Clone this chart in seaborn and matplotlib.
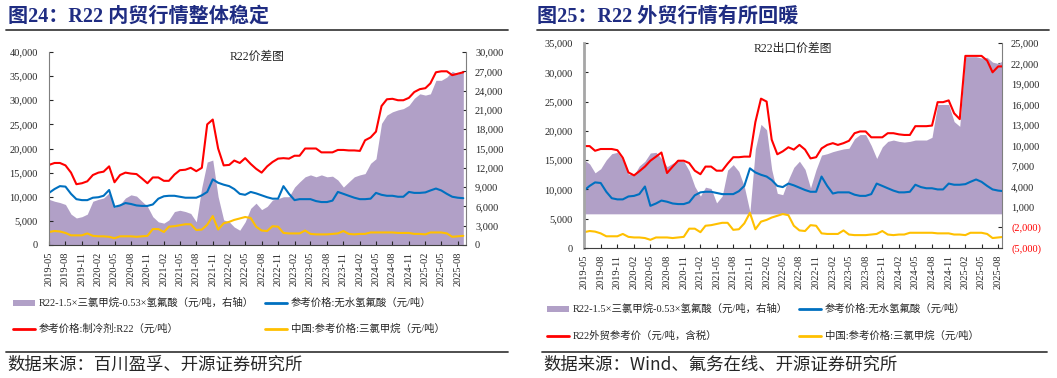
import numpy as np
import pandas as pd
import matplotlib
matplotlib.use("Agg")
import matplotlib.pyplot as plt
from matplotlib.lines import Line2D
from matplotlib.patches import Rectangle
import seaborn as sns

# monthly points, 2019-05 .. 2025-09
months = pd.date_range("2019-05-01", "2025-09-01", freq="MS")

# left chart: domestic R22 price (yuan/t)
r22_domestic = [16600, 17000, 17000, 16500, 15000, 12600, 12800, 13200, 14500, 15000,
                15200, 16300, 13000, 14500, 15000, 14800, 14700, 13800, 12800, 14000,
                14000, 13300, 13300, 14600, 15500, 15600, 16000, 15300, 16000, 25000,
                26000, 20000, 16500, 16600, 17500, 17000, 18000, 16800, 15800, 15000,
                16300, 17200, 17900, 18000, 17900, 18500, 18500, 20000, 20000, 20000,
                19200, 19200, 19200, 19700, 19700, 19600, 19600, 19500, 21700, 22300,
                23500, 28800, 30200, 30300, 30000, 30000, 30500, 31700, 32300, 32500,
                33500, 35800, 36000, 36000, 35200, 35500, 35800]

# anhydrous HF reference price, left chart
hf_left = [10800, 11600, 12200, 12100, 10600, 9500, 9300, 9300, 9800, 9900,
           10200, 11400, 7900, 8200, 8700, 8500, 8200, 8100, 8100, 8400,
           9600, 10100, 10200, 10200, 10000, 9800, 9800, 9800, 10300, 11000,
           13600, 12900, 12500, 12200, 11600, 10600, 10400, 11000, 10700, 10300,
           9900, 9600, 9600, 12200, 10600, 9300, 9500, 9500, 9500, 9100,
           8900, 8900, 9200, 11000, 10600, 10200, 9800, 9500, 9500, 9600,
           10800, 10400, 10200, 10200, 10000, 10000, 11000, 10800, 10800, 10900,
           11300, 11700, 11300, 10600, 10000, 9800, 9700]

# anhydrous HF reference price, right chart
hf_right = [9800, 10600, 11200, 11100, 9600, 8500, 8300, 8300, 8800, 8900,
            9200, 10500, 7200, 7600, 8100, 7900, 7600, 7500, 7500, 7800,
            9000, 9500, 9600, 9600, 9400, 9200, 9200, 9200, 9700, 10600,
            13600, 12900, 12500, 12200, 11600, 10600, 10400, 11000, 10700, 10300,
            9900, 9600, 9600, 12200, 10600, 9300, 9500, 9500, 9500, 9100,
            8900, 8900, 9200, 11000, 10600, 10200, 9800, 9500, 9500, 9600,
            10800, 10400, 10200, 10200, 10000, 10000, 11000, 10800, 10800, 10900,
            11300, 11700, 11300, 10600, 10000, 9800, 9700]

# chloroform reference price
chcl3_price = [2700, 2900, 2800, 2500, 2000, 2000, 2000, 2400, 1900, 1800,
               1800, 1700, 1400, 1800, 1800, 1800, 1700, 1800, 1900, 3300,
               3300, 2700, 3800, 3900, 4100, 4300, 4300, 3100, 3200, 4200,
               6000, 3200, 4500, 4800, 5200, 5500, 5800, 5600, 3800, 3000,
               2900, 3900, 3800, 2500, 2400, 2400, 2400, 3000, 2300, 2200,
               2200, 2200, 2300, 2400, 2900, 2300, 2200, 2300, 2300, 2600,
               2600, 2600, 2600, 2600, 2500, 2500, 2500, 2300, 2300, 2200,
               2600, 2600, 2600, 2400, 1700, 1800, 1900]

# spread, domestic (right axis)
spread_domestic = [7100, 6800, 6600, 6300, 4800, 4200, 4400, 4800, 6800, 7100,
                   7300, 8100, 5800, 6300, 7300, 7800, 7600, 6800, 6000, 4400,
                   3600, 3400, 3900, 5200, 5400, 5200, 4900, 3600, 9000, 12900,
                   13200, 7500, 3900, 3600, 2800, 2300, 3600, 5700, 6500, 5500,
                   6000, 7000, 7200, 7500, 7500, 9000, 9800, 10600, 10900, 10600,
                   10900, 10600, 10700, 10100, 9000, 9800, 10600, 10900, 11100, 12700,
                   13400, 18900, 20200, 20700, 21000, 21200, 21700, 22800, 23500, 23300,
                   23500, 25600, 25600, 26100, 27000, 26600, 26900]

# right chart: export R22 price (tax incl.)
r22_export = [17400, 17400, 16600, 16900, 16900, 16900, 16700, 15400, 12900, 12400,
              13100, 13900, 14900, 15600, 16300, 12800, 13900, 14900, 14900, 14500,
              13200, 12600, 13900, 13900, 13200, 13200, 14400, 15500, 15500, 15600,
              15600, 21500, 25500, 25000, 18500, 16000, 16500, 17200, 16800, 17600,
              16800, 15300, 15500, 17000, 17600, 17900, 17600, 17900, 18300, 19600,
              19900, 19900, 18900, 18900, 18900, 19600, 19600, 19400, 19300, 19300,
              20800, 20800, 20800, 20900, 24900, 24900, 25200, 23000, 22000, 32800,
              32800, 32800, 32800, 32000, 30000, 31000, 31000]

# spread, export (right axis)
spread_export = [7900, 7300, 6000, 6600, 7900, 8800, 9000, 7900, 5800, 5700,
                 7000, 7700, 8900, 9000, 8100, 6900, 7400, 7800, 7700, 6300,
                 4000, 2600, 3900, 3700, 1600, 2600, 6400, 7200, 6200, 4000,
                 300, 9500, 13100, 12300, 6500, 3000, 2800, 5000, 6800, 7700,
                 6500, 3800, 6500, 8600, 8800, 9100, 9300, 9500, 9600, 11000,
                 11600, 11600, 10000, 8100, 9800, 10600, 10800, 10600, 10500, 10600,
                 10800, 10800, 10800, 11200, 16000, 16000, 16000, 13500, 12800, 23000,
                 23000, 23000, 22800, 22900, 22200, 22000, 22500]

legend_spread = "R22-1.5×三氯甲烷-0.53×氢氟酸（元/吨，右轴）"
legend_hf = "参考价格:无水氢氟酸（元/吨）"
legend_r22_dom = "参考价格:制冷剂:R22（元/吨）"
legend_r22_exp = "R22外贸参考价（元/吨，含税）"
legend_chcl3 = "中国:参考价格:三氯甲烷（元/吨）"

PURPLE = "#B1A0C7"
BLUE = "#0070C0"
RED = "#FF0000"
GOLD = "#FFC000"
NAVY = "#1F2C82"
FONT = ["Liberation Serif", "Noto Sans CJK SC"]

sns.set_style("ticks")
plt.rcParams["font.family"] = FONT

W, H = 1057, 378
fig = plt.figure(figsize=(W / 100, H / 100), dpi=100)


def rect(x0, y0, x1, y1):
    return [x0 / W, 1 - y1 / H, (x1 - x0) / W, (y1 - y0) / H]


def fy(y):
    return 1 - y / H


def draw_panel(box, df, xmax, lmax, lstep, rmin, rmax, rstep, note, note_y, left_spine):
    ax = fig.add_axes(rect(*box))
    ax2 = ax.twinx()
    ax2.fill_between(df["date"], 0, df["spread"], color=PURPLE, lw=0)
    ax.set_zorder(ax2.get_zorder() + 1)
    ax.patch.set_visible(False)

    sns.lineplot(data=df, x="date", y="hf", ax=ax, color=BLUE, lw=1.5)
    sns.lineplot(data=df, x="date", y="chcl3", ax=ax, color=GOLD, lw=1.5)
    sns.lineplot(data=df, x="date", y="r22", ax=ax, color=RED, lw=1.5)
    ax.set_xlabel("")
    ax.set_ylabel("")

    ax.set_xlim(df["date"].iloc[0], pd.Timestamp(xmax))
    ticks = pd.date_range("2019-05-01", "2025-08-01", freq="3MS")
    ax.set_xticks(ticks)
    ax.set_xticklabels([t.strftime("%Y-%m") for t in ticks], rotation=90)

    ax.set_ylim(0, lmax)
    lt = np.arange(0, lmax + 1, lstep)
    ax.set_yticks(lt)
    ax.set_yticklabels([f"{v:,.0f}" for v in lt])

    ax2.set_ylim(rmin, rmax)
    rt = np.arange(rmin, rmax + 1, rstep)
    ax2.set_yticks(rt)
    ax2.set_yticklabels([f"({-v:,.0f})" if v < 0 else f"{v:,.0f}" for v in rt])
    for lbl, v in zip(ax2.get_yticklabels(), rt):
        if v < 0:
            lbl.set_color(RED)

    ax.tick_params(axis="y", direction="in", length=3, width=0.8, labelsize=7.5, pad=8)
    ax.tick_params(axis="x", direction="in", length=3, width=0.8, labelsize=7.5, pad=5)
    ax2.tick_params(axis="y", direction="in", length=3, width=0.8, labelsize=7.5, pad=6.5)

    for a in (ax, ax2):
        a.spines["top"].set_visible(False)
    ax.spines["left"].set_color(left_spine[0])
    ax.spines["left"].set_linewidth(left_spine[1])
    ax2.spines["left"].set_visible(False)
    ax2.spines["right"].set_color("#7F7F7F")
    ax.spines["right"].set_visible(False)
    ax.spines["bottom"].set_color("#404040")
    ax2.spines["bottom"].set_visible(False)

    mid = (box[0] + box[2]) / 2
    fig.text(mid / W, fy(note_y), note, ha="center", va="center", fontsize=8.5)
    return ax


def legend_item(x, y, color, text, patch=False):
    if patch:
        fig.add_artist(Rectangle((x / W, fy(y + 3)), 22 / W, 6 / H,
                                 transform=fig.transFigure, color=color, lw=0))
    else:
        fig.add_artist(Line2D([x / W, (x + 22) / W], [fy(y), fy(y)],
                              transform=fig.transFigure, color=color, lw=2))
    fig.text((x + 26) / W, fy(y), text, va="center", fontsize=7.5)


def rule(x0, x1, y):
    fig.add_artist(Line2D([x0 / W, x1 / W], [fy(y), fy(y)], transform=fig.transFigure,
                          color="#404040", lw=1.3))


# ---- left chart
df_left = pd.DataFrame({"date": months, "r22": r22_domestic, "hf": hf_left,
                        "chcl3": chcl3_price, "spread": spread_domestic})
draw_panel((49, 52, 466, 245), df_left, "2025-09-16", 40000, 5000, 0, 30000, 3000,
           "R22价差图", 57, ("#7F7F7F", 0.8))

fig.text(8 / W, fy(17), "图24：R22 内贸行情整体稳定", fontsize=14.5, fontweight="bold",
         color=NAVY, va="center")
rule(6, 508, 30)
legend_item(13, 303, PURPLE, legend_spread, patch=True)
legend_item(265, 303, BLUE, legend_hf)
legend_item(13, 329, RED, legend_r22_dom)
legend_item(265, 329, GOLD, legend_chcl3)
rule(6, 508, 352)
fig.text(7 / W, fy(365), "数据来源：百川盈孚、开源证券研究所", fontsize=12.5, va="center",
         family=["Noto Sans CJK SC", "DejaVu Sans"])

# ---- right chart
df_right = pd.DataFrame({"date": months, "r22": r22_export, "hf": hf_right,
                         "chcl3": chcl3_price, "spread": spread_export})
draw_panel((584, 43, 1002, 248), df_right, "2025-08-22", 35000, 5000, -5000, 25000, 3000,
           "R22出口价差图", 49, ("#A6A6A6", 2.0))

fig.text(537 / W, fy(17), "图25：R22 外贸行情有所回暖", fontsize=14.5, fontweight="bold",
         color=NAVY, va="center")
rule(537, 1049, 30)
legend_item(547, 309, PURPLE, legend_spread, patch=True)
legend_item(799, 309, BLUE, legend_hf)
legend_item(547, 336, RED, legend_r22_exp)
legend_item(799, 336, GOLD, legend_chcl3)
rule(542, 1047, 352)
fig.text(543 / W, fy(365), "数据来源：Wind、氟务在线、开源证券研究所", fontsize=12.5, va="center",
         family=["Noto Sans CJK SC", "DejaVu Sans"])

fig.savefig("out.png", dpi=100)
